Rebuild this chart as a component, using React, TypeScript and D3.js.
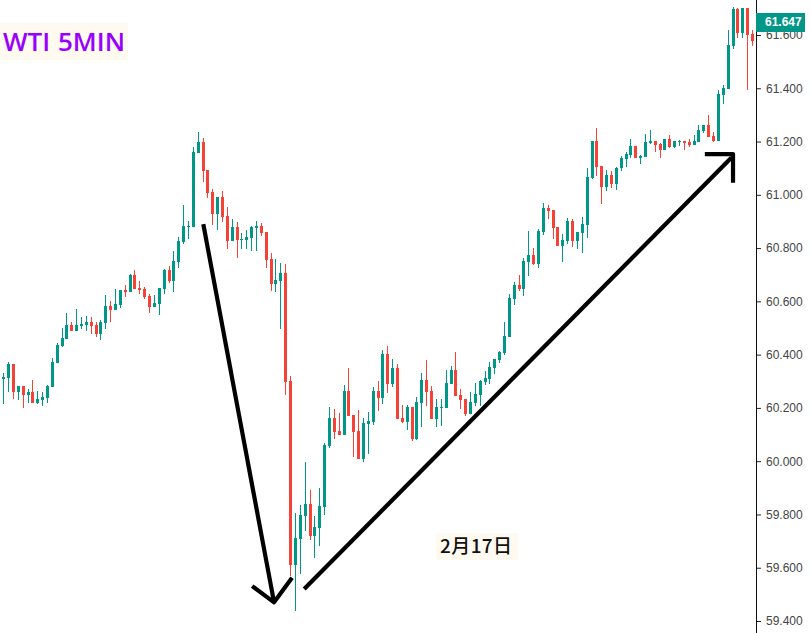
import React, { useRef, useEffect } from 'react'
import * as d3 from 'd3'

const opens = [
  60.309, 60.312, 60.365, 60.260, 60.282, 60.249, 60.260, 60.219, 60.230, 60.237,
  60.279, 60.369, 60.433, 60.459, 60.511, 60.489, 60.508, 60.511, 60.523, 60.511,
  60.478, 60.519, 60.583, 60.568, 60.586, 60.643, 60.635, 60.699, 60.650, 60.646,
  60.620, 60.579, 60.590, 60.646, 60.718, 60.676, 60.748, 60.823, 60.879, 60.879,
  61.157, 61.198, 61.093, 61.011, 60.928, 60.992, 60.920, 60.827, 60.879, 60.830,
  60.830, 60.838, 60.876, 60.883, 60.861, 60.759, 60.665, 60.676, 60.706, 60.301,
  59.611, 59.708, 59.794, 59.839, 59.719, 59.749, 59.828, 60.057, 60.162, 60.114,
  60.098, 60.264, 60.174, 60.114, 60.008, 60.140, 60.147, 60.264, 60.237, 60.402,
  60.290, 60.350, 60.162, 60.147, 60.204, 60.083, 60.219, 60.305, 60.264, 60.159,
  60.200, 60.200, 60.290, 60.342, 60.249, 60.234, 60.177, 60.219, 60.249, 60.297,
  60.309, 60.350, 60.380, 60.406, 60.466, 60.609, 60.661, 60.646, 60.748, 60.774,
  60.740, 60.861, 60.951, 60.943, 60.879, 60.808, 60.827, 60.902, 60.827, 60.857,
  60.887, 61.063, 61.202, 61.108, 61.030, 61.075, 61.041, 61.101, 61.135, 61.150,
  61.183, 61.138, 61.142, 61.195, 61.202, 61.191, 61.168, 61.210, 61.180, 61.198,
  61.202, 61.198, 61.187, 61.198, 61.240, 61.262, 61.221, 61.202, 61.375, 61.397,
  61.559, 61.698, 61.607, 61.701, 61.604,
]
const highs = [
  60.331, 60.372, 60.365, 60.282, 60.282, 60.271, 60.305, 60.264, 60.260, 60.286,
  60.387, 60.444, 60.500, 60.556, 60.523, 60.571, 60.541, 60.545, 60.541, 60.523,
  60.530, 60.624, 60.601, 60.646, 60.643, 60.661, 60.703, 60.718, 60.676, 60.654,
  60.628, 60.624, 60.650, 60.721, 60.733, 60.789, 60.842, 60.962, 60.902, 61.179,
  61.236, 61.213, 61.093, 61.022, 60.992, 61.014, 60.954, 60.909, 60.898, 60.857,
  60.868, 60.883, 60.902, 60.894, 60.861, 60.782, 60.759, 60.744, 60.740, 60.320,
  59.806, 59.836, 59.997, 59.892, 59.794, 59.900, 60.068, 60.204, 60.196, 60.181,
  60.286, 60.350, 60.174, 60.192, 60.162, 60.185, 60.279, 60.301, 60.417, 60.433,
  60.384, 60.365, 60.211, 60.211, 60.204, 60.241, 60.331, 60.380, 60.282, 60.234,
  60.234, 60.342, 60.357, 60.410, 60.271, 60.234, 60.260, 60.294, 60.305, 60.339,
  60.372, 60.384, 60.414, 60.523, 60.628, 60.673, 60.699, 60.763, 60.864, 60.800,
  60.872, 60.969, 60.962, 60.943, 60.879, 60.853, 60.913, 60.909, 60.861, 60.917,
  61.101, 61.202, 61.251, 61.108, 61.093, 61.090, 61.105, 61.146, 61.161, 61.210,
  61.183, 61.150, 61.228, 61.243, 61.202, 61.195, 61.210, 61.225, 61.202, 61.206,
  61.202, 61.210, 61.225, 61.262, 61.262, 61.300, 61.236, 61.394, 61.412, 61.619,
  61.705, 61.701, 61.701, 61.701, 61.619,
]
const lows = [
  60.215, 60.260, 60.234, 60.230, 60.200, 60.219, 60.219, 60.215, 60.207, 60.219,
  60.279, 60.369, 60.429, 60.459, 60.489, 60.489, 60.496, 60.489, 60.478, 60.466,
  60.455, 60.496, 60.523, 60.568, 60.575, 60.616, 60.635, 60.646, 60.628, 60.609,
  60.556, 60.579, 60.549, 60.628, 60.669, 60.635, 60.725, 60.815, 60.834, 60.879,
  61.157, 61.048, 60.988, 60.887, 60.868, 60.898, 60.797, 60.827, 60.763, 60.797,
  60.797, 60.789, 60.789, 60.846, 60.725, 60.639, 60.635, 60.496, 60.249, 59.569,
  59.438, 59.577, 59.738, 59.704, 59.637, 59.682, 59.798, 60.050, 60.083, 60.098,
  60.098, 60.170, 60.016, 60.008, 59.997, 60.027, 60.136, 60.189, 60.215, 60.256,
  60.279, 60.159, 60.144, 60.117, 60.076, 60.080, 60.129, 60.207, 60.159, 60.129,
  60.132, 60.200, 60.290, 60.245, 60.196, 60.170, 60.177, 60.207, 60.207, 60.286,
  60.290, 60.327, 60.369, 60.399, 60.466, 60.586, 60.639, 60.620, 60.695, 60.737,
  60.725, 60.849, 60.909, 60.834, 60.808, 60.748, 60.815, 60.804, 60.797, 60.782,
  60.838, 61.059, 61.071, 60.966, 61.015, 61.026, 61.018, 61.090, 61.105, 61.138,
  61.138, 61.116, 61.142, 61.191, 61.161, 61.138, 61.168, 61.176, 61.176, 61.183,
  61.168, 61.180, 61.187, 61.198, 61.232, 61.217, 61.198, 61.202, 61.341, 61.397,
  61.547, 61.589, 61.589, 61.394, 61.559,
]
const closes = [
  60.316, 60.365, 60.260, 60.282, 60.249, 60.260, 60.219, 60.234, 60.241, 60.282,
  60.372, 60.436, 60.463, 60.511, 60.489, 60.511, 60.515, 60.523, 60.508, 60.478,
  60.523, 60.583, 60.568, 60.590, 60.643, 60.635, 60.699, 60.646, 60.643, 60.616,
  60.579, 60.594, 60.650, 60.718, 60.676, 60.751, 60.827, 60.883, 60.883, 61.161,
  61.198, 61.089, 61.007, 60.928, 60.992, 60.917, 60.827, 60.879, 60.830, 60.834,
  60.842, 60.879, 60.883, 60.857, 60.755, 60.665, 60.680, 60.706, 60.297, 59.611,
  59.712, 59.798, 59.839, 59.719, 59.753, 59.832, 60.061, 60.162, 60.110, 60.098,
  60.264, 60.170, 60.110, 60.008, 60.144, 60.151, 60.264, 60.237, 60.402, 60.290,
  60.350, 60.159, 60.147, 60.204, 60.083, 60.222, 60.305, 60.260, 60.159, 60.204,
  60.204, 60.294, 60.342, 60.245, 60.230, 60.177, 60.222, 60.252, 60.301, 60.312,
  60.354, 60.384, 60.410, 60.470, 60.613, 60.661, 60.646, 60.751, 60.774, 60.740,
  60.864, 60.951, 60.939, 60.876, 60.808, 60.830, 60.902, 60.827, 60.861, 60.891,
  61.067, 61.202, 61.105, 61.030, 61.075, 61.041, 61.101, 61.138, 61.153, 61.183,
  61.138, 61.146, 61.198, 61.202, 61.187, 61.168, 61.210, 61.180, 61.202, 61.202,
  61.195, 61.187, 61.202, 61.243, 61.262, 61.217, 61.202, 61.379, 61.401, 61.562,
  61.698, 61.607, 61.701, 61.600, 61.577,
]

const priceTicks = [59.4, 59.6, 59.8, 60.0, 60.2, 60.4, 60.6, 60.8, 61.0, 61.2, 61.4, 61.6]
const lastPrice = 61.647

// hand drawn arrows, in [candle index, price]
const downArrow: [number, number][] = [[41.05, 60.890], [55.6, 59.470]]
const downArrowHead: [number, number][] = [[51.1, 59.531], [55.6, 59.470], [59.3, 59.562]]
const upArrow: [number, number][] = [[61.8, 59.520], [149.7, 61.140]]
const upArrowHead: [number, number][] = [[144.2, 61.153], [150.0, 61.153], [150.0, 61.045]]

const titleText = 'WTI 5MIN'
const dateText = '2月17日'

const W = 811
const H = 633
const GREEN = '#009688'
const RED = '#f44336'

export default function App() {
  const svgRef = useRef<SVGSVGElement>(null)

  useEffect(() => {
    if (!svgRef.current) return
    const svg = d3.select(svgRef.current)
    svg.selectAll('*').remove()

    const axisX = 756

    const x = d3.scaleLinear().domain([0, opens.length - 1]).range([3.72, 752.47])
    const y = d3.scaleLinear().domain([59.4, 61.6]).range([621, 35])

    const idx = d3.range(opens.length)
    const color = (i: number) => (closes[i] >= opens[i] ? GREEN : RED)

    const candles = svg.append('g').attr('shape-rendering', 'crispEdges')

    // wicks
    candles.selectAll('.wick')
      .data(idx)
      .join('rect')
      .attr('class', 'wick')
      .attr('x', i => Math.floor(x(i)))
      .attr('y', i => Math.round(y(highs[i])))
      .attr('width', 1)
      .attr('height', i => Math.max(1, Math.round(y(lows[i])) - Math.round(y(highs[i]))))
      .attr('fill', color)

    // bodies
    candles.selectAll('.body')
      .data(idx)
      .join('rect')
      .attr('class', 'body')
      .attr('x', i => Math.floor(x(i)) - 1)
      .attr('y', i => Math.round(y(Math.max(opens[i], closes[i]))))
      .attr('width', 3)
      .attr('height', i => Math.max(1, Math.round(y(Math.min(opens[i], closes[i]))) - Math.round(y(Math.max(opens[i], closes[i])))))
      .attr('fill', color)

    // Arrows
    const line = d3.line<[number, number]>().x(d => x(d[0])).y(d => y(d[1]))
    ;[downArrow, downArrowHead, upArrow, upArrowHead].forEach(pts => {
      svg.append('path')
        .attr('d', line(pts))
        .attr('fill', 'none')
        .attr('stroke', '#000')
        .attr('stroke-width', 4.2)
        .attr('stroke-linejoin', 'round')
    })

    // Price axis
    const yAxis = svg.append('g')
      .attr('transform', `translate(${axisX},0)`)
      .call(d3.axisRight(y).tickValues(priceTicks).tickSize(5).tickPadding(5).tickFormat(d3.format('.3f')))
    yAxis.select('.domain').remove()
    yAxis.selectAll('text')
      .attr('fill', '#444')
      .attr('font-size', 12)
      .attr('font-family', '"Liberation Sans", Arial, sans-serif')
    yAxis.selectAll('line').attr('stroke', '#222')

    svg.append('line')
      .attr('x1', axisX + 0.5).attr('x2', axisX + 0.5)
      .attr('y1', 0).attr('y2', H)
      .attr('stroke', '#111')

    // Last price label
    svg.append('rect')
      .attr('x', axisX).attr('y', y(lastPrice) - 9.5)
      .attr('width', 49).attr('height', 19)
      .attr('fill', GREEN)
    svg.append('text')
      .attr('x', axisX + 9).attr('y', y(lastPrice) + 4)
      .attr('fill', '#fff')
      .attr('font-size', 12)
      .attr('font-weight', 'bold')
      .attr('font-family', '"Liberation Sans", Arial, sans-serif')
      .text(d3.format('.3f')(lastPrice))

    // Title
    svg.append('rect')
      .attr('x', 0).attr('y', 23).attr('width', 128).attr('height', 37)
      .attr('fill', '#fffaf0')
    svg.append('text')
      .attr('x', 3).attr('y', 51)
      .attr('fill', '#9900ff')
      .attr('font-size', 26)
      .attr('font-weight', 600)
      .attr('font-family', '"Open Sans", sans-serif')
      .attr('word-spacing', 1)
      .text(titleText)

    // Date note
    svg.append('rect')
      .attr('x', 436).attr('y', 533).attr('width', 82).attr('height', 27)
      .attr('fill', '#fffaf0')
    svg.append('text')
      .attr('x', 440).attr('y', 553)
      .attr('fill', '#111')
      .attr('font-size', 19)
      .attr('font-weight', 500)
      .attr('letter-spacing', 0.4)
      .attr('font-family', '"Noto Sans CJK SC", sans-serif')
      .text(dateText)
  }, [])

  return (
    <svg
      ref={svgRef}
      width={W}
      height={H}
      style={{ position: 'absolute', left: 0, top: 0, background: '#fff' }}
    />
  )
}
